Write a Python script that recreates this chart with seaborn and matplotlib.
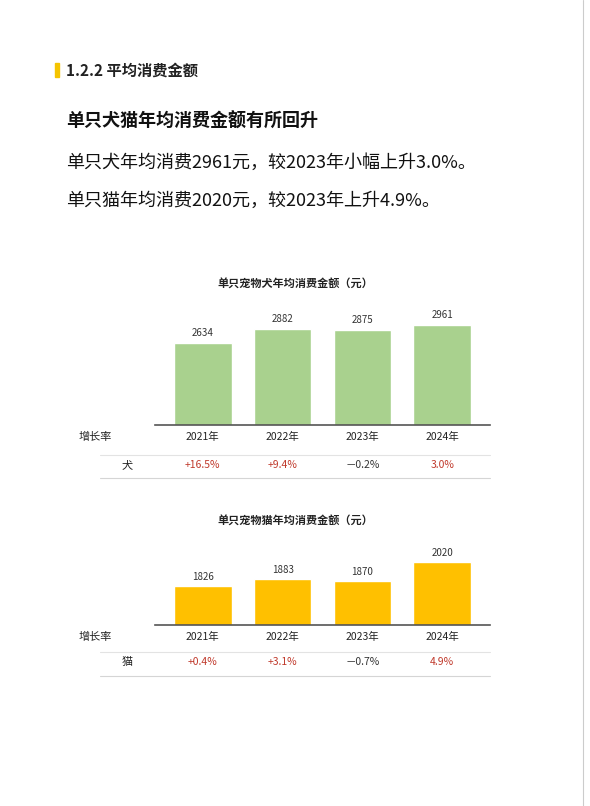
import matplotlib
matplotlib.use("Agg")
import matplotlib.pyplot as plt
import seaborn as sns
import pandas as pd

sns.set_theme(style="white")
plt.rcParams['font.family'] = ['Noto Sans CJK SC', 'DejaVu Sans']

years = ["2021年", "2022年", "2023年", "2024年"]
dog_values = [2634, 2882, 2875, 2961]
cat_values = [1826, 1883, 1870, 2020]
dog_growth = ["+16.5%", "+9.4%", "－0.2%", "3.0%"]
cat_growth = ["+0.4%", "+3.1%", "－0.7%", "4.9%"]
growth_colors = ["#c0392b", "#c0392b", "#333333", "#c0392b"]

W, H = 590, 806
fig = plt.figure(figsize=(W/100, H/100), dpi=100)
bg = fig.add_axes([0, 0, 1, 1])
bg.set_xlim(0, W); bg.set_ylim(H, 0); bg.axis("off")

# page border at right
bg.plot([583, 583], [0, H], color="#cccccc", lw=0.8)

bg.add_patch(plt.Rectangle((55, 63), 4, 14, color="#f5c400"))
bg.text(66, 71, "1.2.2 平均消费金额", fontsize=11, fontweight="bold", va="center", color="#222222")
bg.text(66, 121, "单只犬猫年均消费金额有所回升", fontsize=13, fontweight="bold", va="center", color="#111111")
bg.text(66, 163, "单只犬年均消费2961元，较2023年小幅上升3.0%。", fontsize=13, va="center", color="#111111")
bg.text(66, 201, "单只猫年均消费2020元，较2023年上升4.9%。", fontsize=13, va="center", color="#111111")

def chart(values, color, title, title_y, ax_top, ax_bot, ymin, ymax, growth, label, yr_y, row_y, l1, l2):
    left, right = 155, 490
    ax = fig.add_axes([left/W, 1-ax_bot/H, (right-left)/W, (ax_bot-ax_top)/H])
    df = pd.DataFrame({"year": years, "v": values})
    sns.barplot(data=df, x="year", y="v", color=color, width=0.72, ax=ax, saturation=1)
    ax.set_ylim(ymin, ymax)
    ax.set_xlim(-0.6, 3.6)
    for i, v in enumerate(values):
        ax.text(i, v + (ymax-ymin)*0.04, str(v), ha="center", va="bottom", fontsize=7, color="#333333")
    ax.set_yticks([]); ax.set_xticks([])
    ax.set_xlabel(""); ax.set_ylabel("")
    for s in ["top", "left", "right"]:
        ax.spines[s].set_visible(False)
    ax.spines["bottom"].set_color("#555555"); ax.spines["bottom"].set_linewidth(1.2)
    bg.text(295, title_y, title, ha="center", va="center", fontsize=8, fontweight="bold", color="#222222")
    centers = [left + (right-left)*(i+0.6)/4.2 for i in range(4)]
    bg.text(95, yr_y, "增长率", ha="center", va="center", fontsize=8, color="#222222")
    bg.text(127, row_y, label, ha="center", va="center", fontsize=8, color="#222222")
    for c, y, g, gc in zip(centers, years, growth, growth_colors):
        bg.text(c, yr_y, y, ha="center", va="center", fontsize=7.5, color="#222222")
        bg.text(c, row_y, g, ha="center", va="center", fontsize=7.5, color=gc)
    bg.plot([100, 490], [l1, l1], color="#e3e3e3", lw=0.8)
    bg.plot([100, 490], [l2, l2], color="#d5d5d5", lw=0.8)

chart(dog_values, "#a9d18e", "单只宠物犬年均消费金额（元）", 284, 300, 425, 1144, 3415,
      dog_growth, "犬", 437, 465, 455, 478)
chart(cat_values, "#ffc000", "单只宠物猫年均消费金额（元）", 521, 530, 625, 1511, 2279,
      cat_growth, "猫", 637, 662, 652, 676)

fig.savefig("out.png", dpi=100, facecolor="white")
